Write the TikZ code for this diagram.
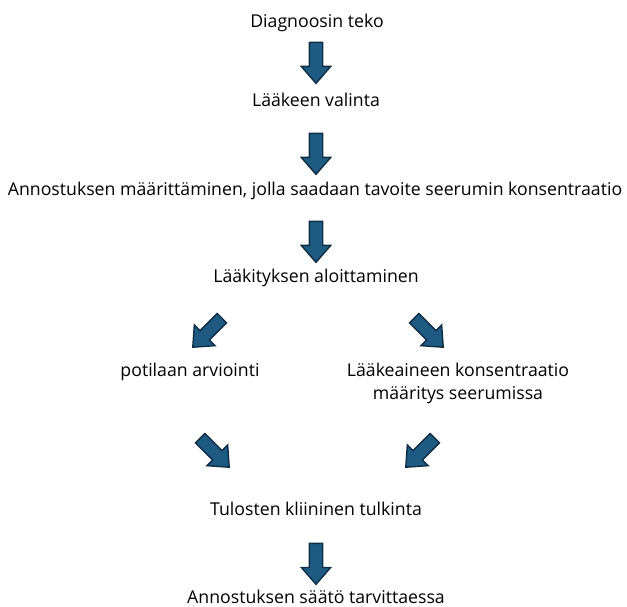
\documentclass[tikz,border=0pt]{standalone}
\usepackage{fontspec}
\setmainfont{Open Sans}
\usetikzlibrary{shapes.arrows}

\definecolor{arrowfill}{HTML}{1F5A82}
\definecolor{arrowline}{HTML}{0F2E46}

\begin{document}
\begin{tikzpicture}[x=1pt, y=-1pt,
    every node/.style={font=\fontsize{17.7}{23}\selectfont, text=black},
    stage/.style={align=center, inner sep=0pt, anchor=base},
    blockarrow/.style={single arrow, draw=arrowline, fill=arrowfill,
        line width=1.4pt, minimum height=41pt, minimum width=0pt,
        inner xsep=0pt, inner ysep=6pt,
        single arrow head extend=8pt, single arrow tip angle=82}]
    \useasboundingbox (0,0) rectangle (627,606);

    % vaiheet
    \node[stage] (diag) at (317,27) {Diagnoosin teko};
    \node[stage] (valinta) at (316,106) {Lääkeen valinta};
    \node[stage] (annostus) at (315,195) {Annostuksen määrittäminen, jolla saadaan tavoite seerumin konsentraatio};
    \node[stage] (aloitus) at (316,282) {Lääkityksen aloittaminen};
    \node[stage] (arvio) at (190,376) {potilaan arviointi};
    \node[stage] (maaritys) at (458,399) {Lääkeaineen konsentraatio\\määritys seerumissa};
    \node[stage] (tulkinta) at (316,515) {Tulosten kliininen tulkinta};
    \node[stage] (saato) at (316,603) {Annostuksen säätö tarvittaessa};

    % nuolet
    \node[blockarrow, rotate=-90] (n1) at (316,59) {};
    \node[blockarrow, rotate=-90] (n2) at (316,150) {};
    \node[blockarrow, rotate=-90] (n3) at (316,238) {};
    \node[blockarrow, rotate=-135] (n4) at (210,330) {};
    \node[blockarrow, rotate=-45] (n5) at (426,330) {};
    \node[blockarrow, rotate=-45] (n6) at (212,450) {};
    \node[blockarrow, rotate=-135] (n7) at (423,450) {};
    \node[blockarrow, rotate=-90] (n8) at (316,560) {};
\end{tikzpicture}
\end{document}
